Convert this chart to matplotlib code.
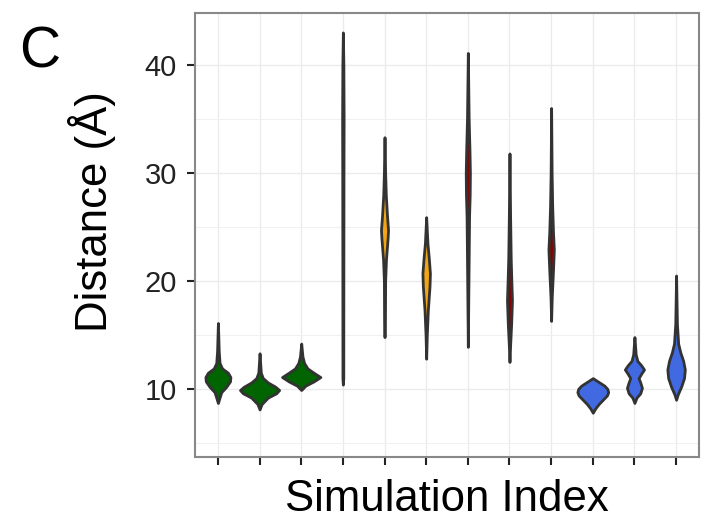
import matplotlib
matplotlib.use("Agg")
import matplotlib.pyplot as plt
from matplotlib.ticker import MultipleLocator
import numpy as np

plt.rcParams['font.family'] = ['Liberation Sans', 'DejaVu Sans']

simulations = list(range(1, 13))
groups = ["A", "A", "A", "B", "B", "B", "C", "C", "C", "D", "D", "D"]
group_colors = {"A": "#006400", "B": "#F2A516", "C": "#8B0000", "D": "#4169E1"}

# Violin profiles: distance values and half-widths (x units)
profile_y = [
    [8.7, 9.2, 9.7, 10.2, 10.7, 11.1, 11.5, 11.9, 12.4, 13.5, 16.1],
    [8.1, 8.6, 9.2, 9.6, 9.9, 10.2, 10.6, 11.0, 11.5, 13.3],
    [9.9, 10.3, 10.7, 11.1, 11.5, 11.9, 12.4, 13.0, 14.2],
    [10.4, 11.0, 20.0, 30.0, 35.0, 40.0, 43.0],
    [14.8, 16.0, 20.0, 22.0, 24.0, 24.7, 26.0, 28.0, 30.0, 33.3],
    [12.8, 15.0, 17.3, 19.5, 20.7, 22.0, 23.5, 25.9],
    [13.9, 20.0, 26.0, 28.0, 30.0, 32.0, 35.0, 41.1],
    [12.5, 14.0, 16.0, 18.2, 20.0, 22.0, 26.0, 31.8],
    [16.3, 18.5, 21.0, 22.9, 24.5, 27.0, 30.0, 36.0],
    [7.8, 8.2, 8.6, 9.0, 9.4, 9.7, 10.0, 10.3, 10.6, 10.85, 11.0],
    [8.7, 9.2, 9.6, 10.1, 10.6, 11.0, 11.4, 11.8, 12.2, 12.6, 13.2, 14.8],
    [9.0, 9.5, 10.2, 11.0, 11.8, 12.6, 13.4, 14.2, 16.0, 20.5],
]
profile_w = [
    [0.0, 0.04, 0.08, 0.2, 0.29, 0.30, 0.24, 0.10, 0.04, 0.02, 0.0],
    [0.0, 0.05, 0.2, 0.4, 0.47, 0.38, 0.2, 0.08, 0.03, 0.0],
    [0.0, 0.1, 0.3, 0.46, 0.3, 0.15, 0.07, 0.03, 0.0],
    [0.0, 0.01, 0.012, 0.015, 0.018, 0.012, 0.0],
    [0.0, 0.01, 0.015, 0.035, 0.075, 0.085, 0.06, 0.03, 0.015, 0.0],
    [0.0, 0.015, 0.04, 0.08, 0.09, 0.065, 0.03, 0.0],
    [0.0, 0.015, 0.03, 0.045, 0.05, 0.04, 0.02, 0.0],
    [0.0, 0.015, 0.04, 0.06, 0.045, 0.03, 0.015, 0.0],
    [0.0, 0.015, 0.045, 0.065, 0.045, 0.025, 0.012, 0.0],
    [0.0, 0.06, 0.14, 0.24, 0.34, 0.37, 0.35, 0.28, 0.16, 0.06, 0.0],
    [0.0, 0.05, 0.14, 0.18, 0.14, 0.10, 0.16, 0.23, 0.16, 0.07, 0.03, 0.0],
    [0.0, 0.04, 0.12, 0.19, 0.21, 0.17, 0.10, 0.05, 0.02, 0.0],
]

y_ticks = [10, 20, 30, 40]

fig = plt.figure(figsize=(7.08, 5.32), dpi=100)
ax = fig.add_axes([195/708, 1 - 457/532, (699-195)/708, (457-13)/532])

for xi, g, ys, ws in zip(simulations, groups, profile_y, profile_w):
    ys = np.asarray(ys); ws = np.asarray(ws)
    ax.fill_betweenx(ys, xi - ws, xi + ws, facecolor=group_colors[g],
                     edgecolor="#333333", linewidth=2.0, zorder=3)

ax.set_xlim(0.45, 12.55)
ax.set_ylim(3.7, 44.8)
ax.set_xticks(simulations)
ax.set_xticklabels([""] * len(simulations))
ax.set_yticks(y_ticks)
ax.yaxis.set_minor_locator(MultipleLocator(5))
ax.grid(which="major", color="#ebebeb", linewidth=1.0, zorder=0)
ax.grid(which="minor", axis="y", color="#f0f0f0", linewidth=0.8, zorder=0)
ax.set_axisbelow(True)
ax.tick_params(axis="both", which="major", length=6, width=1.5, color="#222222",
               labelsize=21, labelcolor="#222222", pad=7)
ax.tick_params(axis="y", which="minor", length=0)
for s in ax.spines.values():
    s.set_color("#888888")
    s.set_linewidth(1.5)

ax.set_xlabel("Simulation Index", fontsize=31.5, labelpad=3)
fig.text(92/708, 1 - 212/532, "Distance (Å)", fontsize=31.5, rotation=90,
         ha="center", va="center")
fig.text(19/708, 1 - 67/532, "C", fontsize=41, ha="left", va="baseline")

fig.savefig("out.png", dpi=100)
